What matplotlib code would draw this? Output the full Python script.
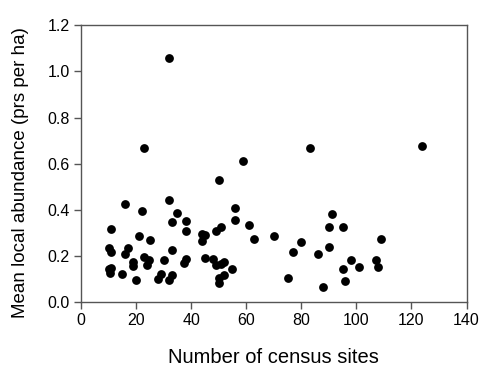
import matplotlib
matplotlib.use("Agg")
import matplotlib.pyplot as plt

# Number of census sites vs mean local abundance
sitios = [10, 11, 11, 10, 11, 10.6, 15, 16, 16, 17,
          19, 19, 20, 21, 22, 23, 23, 24.6, 24, 25,
          28, 29, 30, 32, 32, 33, 33, 33, 32, 35,
          38, 38, 38, 37.3, 44, 45, 44, 45, 48, 49,
          51, 49, 51, 52, 55, 50, 52, 50, 50, 56,
          56, 59, 61, 63, 70, 75, 77, 80, 83, 86,
          88, 90, 90, 91, 95, 95, 96, 98, 101, 107,
          108, 109, 124]
abundancia = [0.234, 0.219, 0.319, 0.143, 0.147, 0.125, 0.122, 0.424, 0.209, 0.236,
              0.176, 0.157, 0.095, 0.287, 0.397, 0.669, 0.198, 0.183, 0.160, 0.268,
              0.100, 0.122, 0.185, 0.443, 1.059, 0.350, 0.226, 0.118, 0.095, 0.385,
              0.352, 0.310, 0.189, 0.172, 0.297, 0.290, 0.265, 0.191, 0.189, 0.310,
              0.327, 0.160, 0.165, 0.174, 0.145, 0.107, 0.117, 0.082, 0.528, 0.408,
              0.355, 0.614, 0.336, 0.275, 0.287, 0.106, 0.218, 0.260, 0.669, 0.210,
              0.066, 0.239, 0.326, 0.382, 0.326, 0.144, 0.091, 0.183, 0.152, 0.182,
              0.154, 0.275, 0.678]

x_ticks = [0, 20, 40, 60, 80, 100, 120, 140]
y_ticks = [0.0, 0.2, 0.4, 0.6, 0.8, 1.0, 1.2]

plt.rcParams["font.family"] = ["Liberation Sans", "DejaVu Sans"]

fig = plt.figure(figsize=(4.82, 3.68), dpi=100)
ax = fig.add_axes([81 / 482, 1 - 302.3 / 368, (466.5 - 81) / 482, (302.3 - 25.3) / 368])

ax.scatter(sitios, abundancia, s=40, color="black", zorder=3, linewidths=0)

ax.set_xlim(0, 140)
ax.set_ylim(0, 1.2)
ax.set_xticks(x_ticks)
ax.set_yticks(y_ticks)
ax.set_yticklabels([f"{v:.1f}" for v in y_ticks])
ax.tick_params(direction="out", length=5, width=1, color="#555555",
               labelsize=11.5, pad=3)

for lado in ax.spines.values():
    lado.set_color("#555555")
    lado.set_linewidth(1)

ax.set_xlabel("Number of census sites", fontsize=14.5, labelpad=14)
ax.set_ylabel("Mean local abundance (prs per ha)", fontsize=13.5)
ax.yaxis.set_label_coords(-0.135, 0.47)

plt.savefig("out.png", dpi=100)
plt.close()
